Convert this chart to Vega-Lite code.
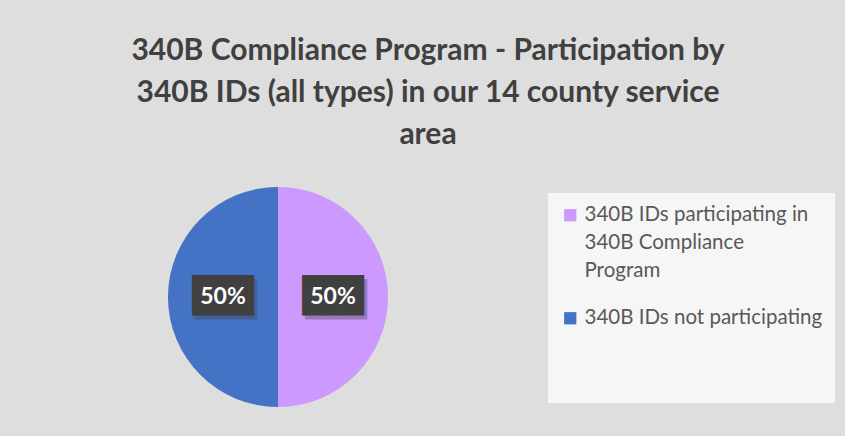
{
  "$schema": "https://vega.github.io/schema/vega-lite/v6.json",
  "autosize": {"type": "none"},
  "width": 240,
  "height": 240,
  "padding": {"left": 158, "top": 177, "right": 447, "bottom": 19},
  "background": "#dedede",
  "config": {"view": {"stroke": null}},
  "title": {
    "text": ["340B Compliance Program - Participation by", "340B IDs (all types) in our 14 county service", "area"],
    "font": "Lato",
    "fontSize": 30,
    "fontWeight": "bold",
    "color": "#404040",
    "lineHeight": 42,
    "anchor": "middle",
    "frame": "group",
    "dx": 150,
    "offset": 27
  },
  "data": {
    "values": [
      {"category": "340B IDs participating in 340B Compliance Program", "share": 0.5},
      {"category": "340B IDs not participating", "share": 0.5}
    ]
  },
  "encoding": {
    "theta": {"field": "share", "type": "quantitative", "stack": true},
    "order": {"field": "category", "sort": "descending"}
  },
  "layer": [
    {
      "mark": {"type": "arc", "outerRadius": 110},
      "encoding": {
        "color": {
          "field": "category",
          "type": "nominal",
          "scale": {
            "domain": ["340B IDs participating in 340B Compliance Program", "340B IDs not participating"],
            "range": ["#cc99ff", "#4472c4"]
          },
          "legend": {
            "title": " ",
            "titleOrient": "bottom",
            "titleFontSize": 50,
            "titlePadding": 12,
            "orient": "none",
            "legendX": 390,
            "legendY": 16,
            "padding": 12,
            "fillColor": "#f6f6f6",
            "symbolType": "square",
            "symbolSize": 150,
            "symbolStrokeWidth": 0,
            "labelFont": "Lato",
            "labelFontSize": 20.5,
            "labelColor": "#595959",
            "labelLimit": 400,
            "rowPadding": 26,
            "labelExpr": "datum.value == '340B IDs participating in 340B Compliance Program' ? ['340B IDs participating in', '340B Compliance', 'Program'] : datum.label",
            "encode": {"labels": {"update": {"lineHeight": {"value": 28}}}}
          }
        }
      }
    },
    {
      "mark": {"type": "text", "radius": 55, "font": "DejaVu Sans Mono", "fontSize": 34, "color": "#404040", "dx": 3, "dy": 4, "opacity": 0.35},
      "encoding": {"text": {"value": "███"}}
    },
    {
      "mark": {"type": "text", "radius": 55, "font": "DejaVu Sans Mono", "fontSize": 34, "color": "#404040"},
      "encoding": {"text": {"value": "███"}}
    },
    {
      "mark": {"type": "text", "radius": 55, "font": "Lato", "fontSize": 23, "fontWeight": "bold", "color": "#ffffff"},
      "encoding": {"text": {"field": "share", "type": "quantitative", "format": ".0%"}}
    }
  ]
}
